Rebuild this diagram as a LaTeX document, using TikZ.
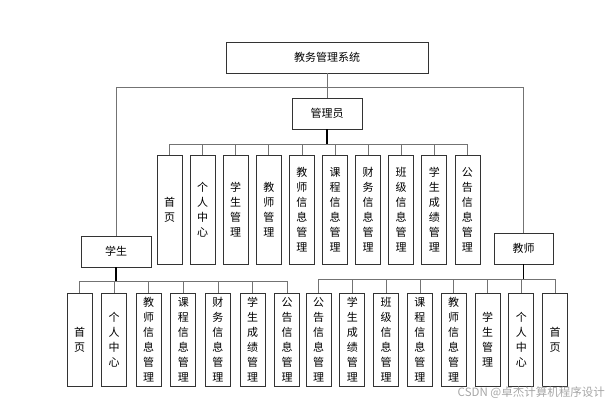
\documentclass[tikz,border=0pt]{standalone}
\usepackage{fontspec}
\newfontfamily\cjk{Noto Sans CJK SC}
\usetikzlibrary{positioning}

\tikzset{
  box/.style={draw=black!80,rectangle,thick,fill=white,font=\cjk\fontsize{11}{15}\selectfont},
  leaf/.style={box,minimum width=25pt,inner sep=0pt,align=center},
  link/.style={draw=black!55,line width=0.8pt},
  stem/.style={draw=black,line width=1.3pt},
}

\begin{document}
\begin{tikzpicture}[x=1pt,y=-1pt]
    \useasboundingbox (0,0) rectangle (611,405);

    \node[box,minimum width=202pt,minimum height=31pt] (sys) at (327,57.5) {教务管理系统};
    \node[box,minimum width=70pt,minimum height=31pt] (admin) at (327,113.5) {管理员};
    \node[box,minimum width=70pt,minimum height=31pt] (stu) at (116,251.5) {学生};
    \node[box,minimum width=59pt,minimum height=31pt] (tea) at (523.5,248.5) {教师};

    % admin
    \node[leaf,minimum height=109pt] (a1) at (169.5,209.5) {首\\页};
    \node[leaf,minimum height=109pt,right=7.3pt of a1] (a2) {个\\人\\中\\心};
    \node[leaf,minimum height=109pt,right=7.3pt of a2] (a3) {学\\生\\管\\理};
    \node[leaf,minimum height=109pt,right=7.3pt of a3] (a4) {教\\师\\管\\理};
    \node[leaf,minimum height=109pt,right=7.3pt of a4] (a5) {教\\师\\信\\息\\管\\理};
    \node[leaf,minimum height=109pt,right=7.3pt of a5] (a6) {课\\程\\信\\息\\管\\理};
    \node[leaf,minimum height=109pt,right=7.3pt of a6] (a7) {财\\务\\信\\息\\管\\理};
    \node[leaf,minimum height=109pt,right=7.3pt of a7] (a8) {班\\级\\信\\息\\管\\理};
    \node[leaf,minimum height=109pt,right=7.3pt of a8] (a9) {学\\生\\成\\绩\\管\\理};
    \node[leaf,minimum height=109pt,right=7.3pt of a9] (a10) {公\\告\\信\\息\\管\\理};

    % student
    \node[leaf,minimum height=93pt] (s1) at (79.5,339.5) {首\\页};
    \node[leaf,minimum height=93pt,right=8.8pt of s1] (s2) {个\\人\\中\\心};
    \node[leaf,minimum height=93pt,right=8.8pt of s2] (s3) {教\\师\\信\\息\\管\\理};
    \node[leaf,minimum height=93pt,right=8.8pt of s3] (s4) {课\\程\\信\\息\\管\\理};
    \node[leaf,minimum height=93pt,right=8.8pt of s4] (s5) {财\\务\\信\\息\\管\\理};
    \node[leaf,minimum height=93pt,right=8.8pt of s5] (s6) {学\\生\\成\\绩\\管\\理};
    \node[leaf,minimum height=93pt,right=8.8pt of s6] (s7) {公\\告\\信\\息\\管\\理};

    % teacher
    \node[leaf,minimum height=93pt] (t1) at (318.5,339.5) {公\\告\\信\\息\\管\\理};
    \node[leaf,minimum height=93pt,right=8pt of t1] (t2) {学\\生\\成\\绩\\管\\理};
    \node[leaf,minimum height=93pt,right=8pt of t2] (t3) {班\\级\\信\\息\\管\\理};
    \node[leaf,minimum height=93pt,right=8pt of t3] (t4) {课\\程\\信\\息\\管\\理};
    \node[leaf,minimum height=93pt,right=8pt of t4] (t5) {教\\师\\信\\息\\管\\理};
    \node[leaf,minimum height=93pt,right=8pt of t5] (t6) {学\\生\\管\\理};
    \node[leaf,minimum height=93pt,right=8pt of t6] (t7) {个\\人\\中\\心};
    \node[leaf,minimum height=93pt,right=8pt of t7] (t8) {首\\页};

    \node[anchor=east,text=black!35,font=\cjk\fontsize{11.5}{13}\selectfont,inner sep=0pt] (mark) at (605,393) {CSDN @卓杰计算机程序设计};

    % lines
    \draw[link] (sys.south) -- ++(0,14) -| (stu.north);
    \draw[link] (sys.south) -- ++(0,14) -| (tea.north);
    \draw[link] (sys) -- (admin);

    \draw[link] (admin.south) -- ++(0,15) -| (a1.north);
    \draw[link] (admin.south) -- ++(0,15) -| (a2.north);
    \draw[link] (admin.south) -- ++(0,15) -| (a3.north);
    \draw[link] (admin.south) -- ++(0,15) -| (a4.north);
    \draw[link] (admin.south) -- ++(0,15) -| (a5.north);
    \draw[link] (admin.south) -- ++(0,15) -| (a6.north);
    \draw[link] (admin.south) -- ++(0,15) -| (a7.north);
    \draw[link] (admin.south) -- ++(0,15) -| (a8.north);
    \draw[link] (admin.south) -- ++(0,15) -| (a9.north);
    \draw[link] (admin.south) -- ++(0,15) -| (a10.north);
    \draw[stem] (admin.south) -- ++(0,15);

    \draw[link] (stu.south) -- ++(0,14) -| (s1.north);
    \draw[link] (stu.south) -- ++(0,14) -| (s2.north);
    \draw[link] (stu.south) -- ++(0,14) -| (s3.north);
    \draw[link] (stu.south) -- ++(0,14) -| (s4.north);
    \draw[link] (stu.south) -- ++(0,14) -| (s5.north);
    \draw[link] (stu.south) -- ++(0,14) -| (s6.north);
    \draw[link] (stu.south) -- ++(0,14) -| (s7.north);
    \draw[stem] (stu.south) -- ++(0,14);

    \draw[link] (tea.south) -- ++(0,15) -| (t1.north);
    \draw[link] (tea.south) -- ++(0,15) -| (t2.north);
    \draw[link] (tea.south) -- ++(0,15) -| (t3.north);
    \draw[link] (tea.south) -- ++(0,15) -| (t4.north);
    \draw[link] (tea.south) -- ++(0,15) -| (t5.north);
    \draw[link] (tea.south) -- ++(0,15) -| (t6.north);
    \draw[link] (tea.south) -- ++(0,15) -| (t7.north);
    \draw[link] (tea.south) -- ++(0,15) -| (t8.north);
    \draw[stem] (tea.south) -- ++(0,15);

\end{tikzpicture}
\end{document}
